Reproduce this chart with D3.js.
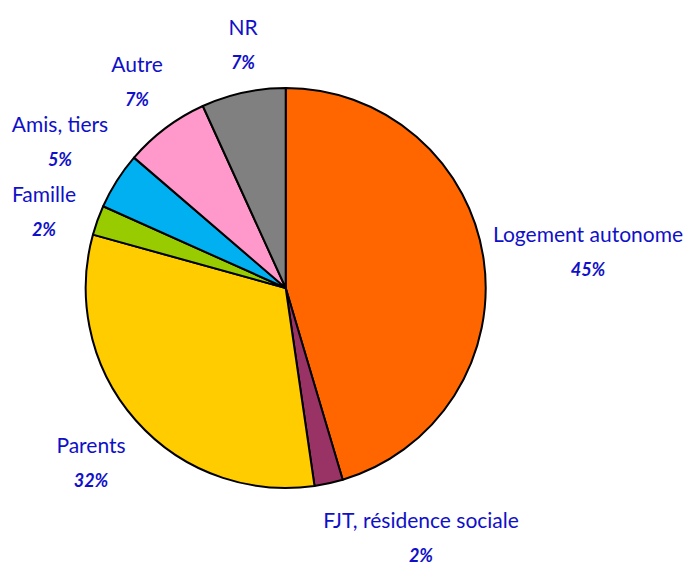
<!DOCTYPE html>
<html>
<head>
<meta charset="utf-8">
<script src="https://cdn.jsdelivr.net/npm/d3@7"></script>
<style>
  body { margin: 0; background: #fff; }
  .lbl { font-family: Lato, "DejaVu Sans", sans-serif; fill: #1010c8; }
  .pct { font-weight: bold; font-style: italic; }
</style>
</head>
<body>
<svg id="chart" width="686" height="567"></svg>
<script>
// slices, clockwise from 12 o'clock
var categories = ["Logement autonome", "FJT, résidence sociale", "Parents", "Famille", "Amis, tiers", "Autre", "NR"];
var shares = [45.4, 2.3, 31.6, 2.4, 4.6, 6.9, 6.8];
var colors = ["#ff6600", "#993366", "#ffcc00", "#99cc00", "#00b0f0", "#ff99cc", "#808080"];

// label block centres (x) and name baseline (y), placed as in the original
var labelAt = [[588, 242], [421, 528], [91, 453], [44, 202], [60, 132], [137, 72], [243, 35]];

var width = 686, height = 567,
    cx = 285.7, cy = 288, radius = 200;

var svg = d3.select("#chart");
var g = svg.append("g").attr("transform", "translate(" + cx + "," + cy + ")");

var pie = d3.pie().sort(null).value(function(d) { return d; });
var arc = d3.arc().innerRadius(0).outerRadius(radius);

var arcs = pie(shares);

g.selectAll("path.slice")
  .data(arcs)
  .enter().append("path")
  .attr("class", "slice")
  .attr("d", arc)
  .style("fill", function(d, i) { return colors[i]; })
  .style("stroke", "#000")
  .style("stroke-width", 2)
  .style("stroke-linejoin", "round");

var labels = svg.selectAll("g.lbl")
  .data(arcs)
  .enter().append("g")
  .attr("class", "lbl")
  .attr("transform", function(d, i) { return "translate(" + labelAt[i][0] + "," + labelAt[i][1] + ")"; });

labels.append("text")
  .attr("text-anchor", "middle")
  .style("font-size", "21px")
  .text(function(d, i) { return categories[i]; });

labels.append("text")
  .attr("class", "pct")
  .attr("text-anchor", "middle")
  .attr("y", 34)
  .style("font-size", "18px")
  .text(function(d) { return Math.round(d.data) + "%"; });
</script>
</body>
</html>
